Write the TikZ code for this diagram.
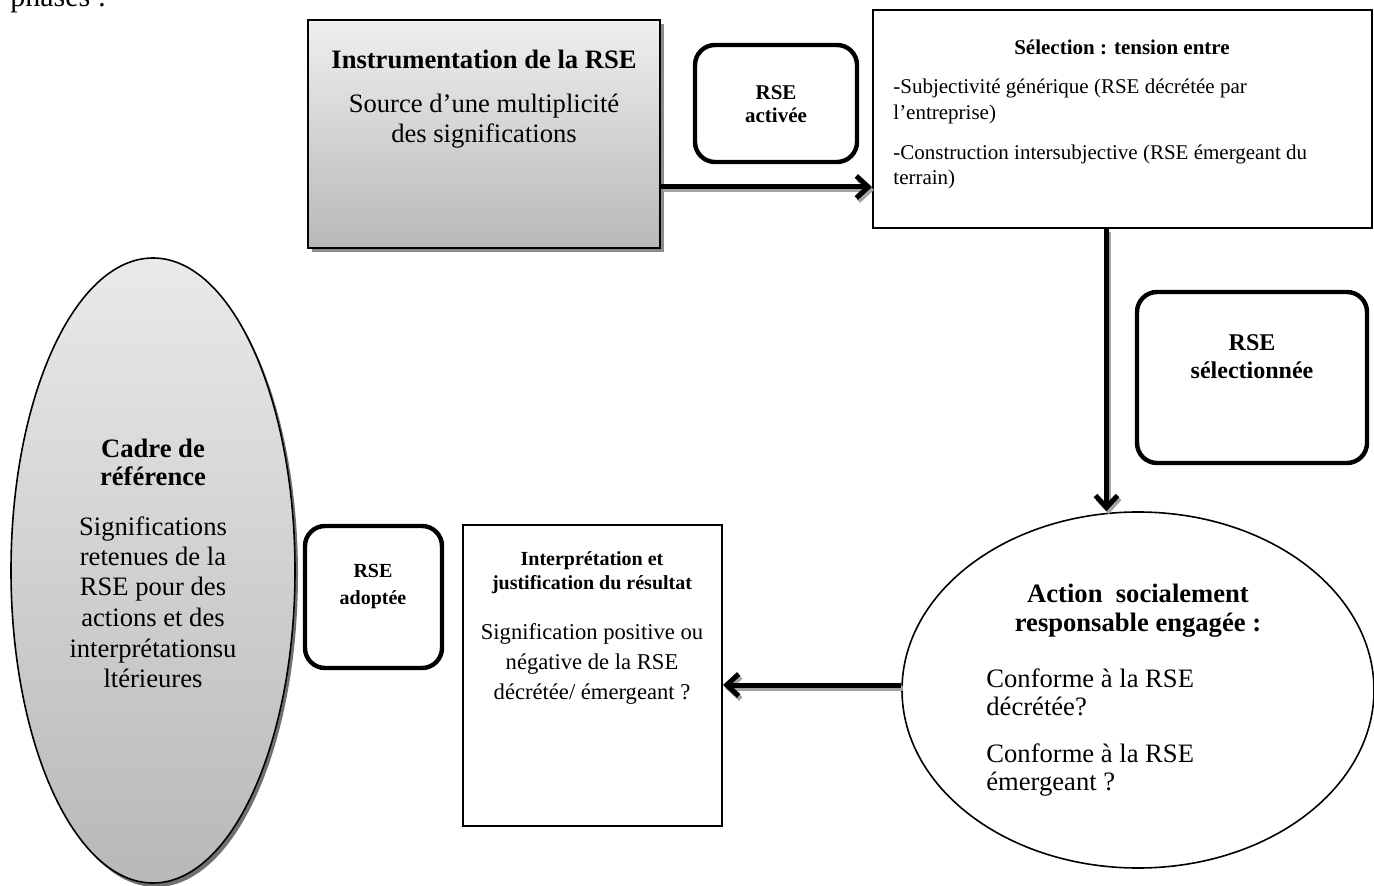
\documentclass[tikz,border=0pt]{standalone}
\usepackage{fontspec}
\setmainfont{Liberation Serif}
\usetikzlibrary{shapes.geometric,arrows.meta,shadows}
\definecolor{gtop}{HTML}{EFEFEF}
\definecolor{gbot}{HTML}{B8B8B8}
\definecolor{shd}{HTML}{8C8C8C}
\begin{document}
\begin{tikzpicture}[x=0.5pt,y=-0.5pt,
  tx/.style={inner sep=0pt, text height=0.7em, text depth=0.2em},
  big/.style={tx, font=\fontsize{13.3}{15}\selectfont},
  bigb/.style={tx, font=\fontsize{13.3}{15}\selectfont\bfseries},
  sm/.style={tx, font=\fontsize{10.5}{12}\selectfont},
  smb/.style={tx, font=\fontsize{10.5}{12}\selectfont\bfseries},
  mid/.style={tx, font=\fontsize{11.3}{13}\selectfont},
  midb/.style={tx, font=\fontsize{12}{14}\selectfont\bfseries},
  tenb/.style={tx, font=\fontsize{10}{12}\selectfont\bfseries},
  plainbox/.style={draw, line width=1pt, rectangle, inner sep=0pt, fill=white},
  rbox/.style={draw, line width=2.2pt, rectangle, rounded corners=10pt, inner sep=0pt},
  arr/.style={line width=2.5pt, -{Straight Barb[length=6pt,width=11pt]}},
  arrshadow/.style={arr, draw=shd!80, transform canvas={xshift=1pt,yshift=-1.5pt}}
]
\useasboundingbox (0,0) rectangle (1374,886);

% top-left cut-off text
\node[font=\fontsize{15}{17}\selectfont, inner sep=0pt, anchor=base west] (ph) at (10,7) {phases :};

% Instrumentation box
\node[draw, line width=1pt, rectangle, inner sep=0pt, minimum width=176pt, minimum height=114pt,
      top color=gtop, bottom color=gbot,
      drop shadow={shadow xshift=2pt, shadow yshift=-2pt, fill=shd, opacity=1}] (inst) at (484,134) {};
\node[bigb] (i1) at (484,64) {Instrumentation de la RSE};
\node[big] (i2) at (484,108) {Source d’une multiplicité};
\node[big] (i3) at (484,138) {des significations};

% RSE activee
\node[rbox, minimum width=81pt, minimum height=58.5pt] (ract) at (776,103.5) {};
\node[smb] (ra1) at (776,95) {RSE};
\node[smb] (ra2) at (776,118) {activée};

% Selection box
\node[plainbox, minimum width=249.5pt, minimum height=109pt] (sel) at (1122.5,119) {};
\node[smb] (s0) at (1122,50) {Sélection : tension entre};
\node[sm, anchor=west] (s1) at (893,89) {-Subjectivité générique (RSE décrétée par};
\node[sm, anchor=west] (s2) at (893,115) {l’entreprise)};
\node[sm, anchor=west] (s3) at (893,155) {-Construction intersubjective (RSE émergeant du};
\node[sm, anchor=west] (s4) at (893,180) {terrain)};

% RSE selectionnee
\node[rbox, minimum width=115pt, minimum height=85.5pt] (rsel) at (1252,377.5) {};
\node[midb] (rs1) at (1252,346) {RSE};
\node[midb] (rs2) at (1252,374) {sélectionnée};

% Action ellipse
\node[draw, line width=0.8pt, ellipse, inner sep=0pt, minimum width=236pt, minimum height=178pt, fill=white] (act) at (1138,690) {};
\node[bigb] (ac1) at (1138,598) {Action\ \ socialement};
\node[bigb] (ac2) at (1138,626) {responsable engagée :};
\node[big, anchor=west] (ac3) at (986,682) {Conforme à la RSE};
\node[big, anchor=west] (ac4) at (986,710) {décrétée?};
\node[big, anchor=west] (ac5) at (986,757) {Conforme à la RSE};
\node[big, anchor=west] (ac6) at (986,785) {émergeant ?};

% Interpretation box
\node[plainbox, minimum width=129.5pt, minimum height=150.5pt] (interp) at (592.5,675.5) {};
\node[tenb] (in1) at (592,561) {Interprétation et};
\node[tenb] (in2) at (592,584) {justification du résultat};
\node[mid] (in3) at (592,634) {Signification positive ou};
\node[mid] (in4) at (592,664) {négative de la RSE};
\node[mid] (in5) at (592,694) {décrétée/ émergeant ?};

% RSE adoptee
\node[rbox, minimum width=68.5pt, minimum height=71pt] (radop) at (373.5,597) {};
\node[tenb] (rd1) at (373,572) {RSE};
\node[tenb] (rd2) at (373,599) {adoptée};

% Cadre ellipse
\node[draw, line width=0.8pt, ellipse, inner sep=0pt, minimum width=142pt, minimum height=312.5pt,
      top color=gtop!95!gray, bottom color=gbot,
      drop shadow={shadow xshift=1.5pt, shadow yshift=-2pt, fill=shd!80!black, opacity=1}] (cadre) at (153,570.5) {};
\node[bigb] (c1) at (153,453) {Cadre de};
\node[bigb] (c2) at (153,481) {référence};
\node[big] (c3) at (153,531) {Significations};
\node[big] (c4) at (153,561) {retenues de la};
\node[big] (c5) at (153,591) {RSE pour des};
\node[big] (c6) at (153,621) {actions et des};
\node[big] (c7) at (153,652) {interprétationsu};
\node[big] (c8) at (153,682) {ltérieures};

% Connectors
\coordinate (a1s) at ([yshift=-26.5pt]inst.east);
\coordinate (a1e) at (a1s -| sel.west);
\draw[arrshadow] (a1s) -- (a1e);
\draw[arr] (a1s) -- (a1e);

\coordinate (a2s) at ([xshift=-8pt]sel.south);
\coordinate (a2e) at (a2s |- act.north);
\draw[arrshadow] (a2s) -- (a2e);
\draw[arr] (a2s) -- (a2e);

\coordinate (a3s) at ([yshift=2.5pt]act.west);
\coordinate (a3e) at (a3s -| interp.east);
\draw[arrshadow] (a3s) -- (a3e);
\draw[arr] (a3s) -- (a3e);
\end{tikzpicture}
\end{document}
